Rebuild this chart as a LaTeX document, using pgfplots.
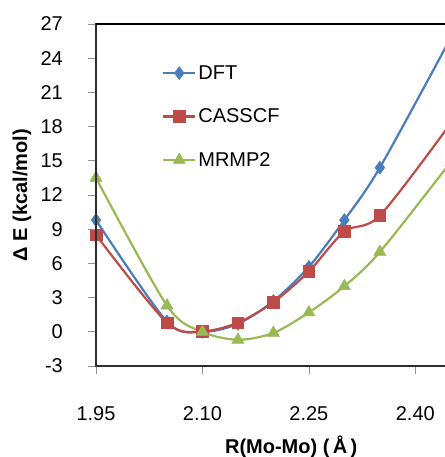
\documentclass[border=0pt]{standalone}
\usepackage{pgfplots}
\pgfplotsset{compat=1.18}
\usepackage{fontspec}
\setmainfont{Liberation Sans}
\definecolor{dftc}{HTML}{4A7EBB}
\definecolor{casc}{HTML}{BE4B48}
\definecolor{mrmc}{HTML}{98B954}
\definecolor{axc}{HTML}{2E2E2E}
\definecolor{tkc}{HTML}{909090}
\begin{document}
\begin{tikzpicture}
\useasboundingbox (-96pt,-91pt) rectangle (348pt,366pt);
\begin{axis}[
  name=a,
  at={(0pt,0pt)}, anchor=south west,
  scale only axis,
  width=390.3pt, height=342pt,
  xmin=1.95, xmax=2.50,
  ymin=-3, ymax=27,
  ytick={-3,0,3,6,9,12,15,18,21,24,27},
  xtick={1.95,2.10,2.25,2.40},
  /pgf/number format/assume math mode=true,
  axis line style={draw=axc, line width=2.3pt},
  tick align=outside,
  major tick length=8pt,
  tick style={draw=tkc, line width=0.6pt},
  xtick pos=bottom, ytick pos=left,
  tick label style={font=\fontsize{20}{24}\selectfont},
  yticklabel style={anchor=east, inner sep=0pt, xshift=-25pt},
  xticklabel style={anchor=center, inner sep=0pt, yshift=-40pt,
    /pgf/number format/fixed, /pgf/number format/fixed zerofill, /pgf/number format/precision=2},
  xlabel={\textbf{R(Mo-Mo) (\,Å\,)}},
  ylabel={\textbf{Δ E (kcal/mol)}},
  label style={font=\fontsize{20}{24}\selectfont},
  xlabel style={at={(rel axis cs:0.5,0)}, anchor=center, yshift=-81pt},
  ylabel style={at={(rel axis cs:0,0.5)}, anchor=center, rotate=0, yshift=74pt},
  legend style={at={(rel axis cs:0.169,0.885)}, anchor=north west, draw=none, fill=none,
    font=\fontsize{20}{24}\selectfont, row sep=24pt, inner sep=0pt,
    /tikz/every even column/.style={column sep=2pt}},
  legend cell align=left,
  legend image code/.code={\draw[#1, mark=none] plot coordinates {(0pt,0pt) (32pt,0pt)};
    \draw[#1, only marks] plot coordinates {(16pt,0pt)};},
]
\addplot[color=dftc, line width=2.2pt, smooth, tension=0.5, mark=diamond*, mark size=6.5pt, mark options={solid, line width=0.5pt}] coordinates {
 (1.95,9.8) (2.05,0.9) (2.10,0) (2.15,0.7) (2.20,2.7) (2.25,5.7) (2.30,9.8) (2.35,14.4) (2.45,25.8)};
\addlegendentry{DFT}
\addplot[color=casc, line width=2.2pt, smooth, tension=0.5, mark=square*, mark size=5.8pt, mark options={solid, line width=0.5pt}] coordinates {
 (1.95,8.5) (2.05,0.8) (2.10,0.05) (2.15,0.8) (2.20,2.6) (2.25,5.3) (2.30,8.8) (2.35,10.2) (2.45,18.3)};
\addlegendentry{CASSCF}
\addplot[color=mrmc, line width=2.2pt, smooth, tension=0.5, mark=triangle*, mark size=7pt, mark options={solid, line width=0.5pt}] coordinates {
 (1.95,13.5) (2.05,2.3) (2.10,0) (2.15,-0.7) (2.20,-0.1) (2.25,1.7) (2.30,4.0) (2.35,7.0) (2.45,14.9)};
\addlegendentry{MRMP2}
\end{axis}
% axis frame and ticks drawn as plain paths
\foreach \yy in {0,34.2,68.4,102.6,136.8,171,205.2,239.4,273.6,307.8,342} {
  \draw[draw=tkc, line width=0.6pt] plot coordinates {(-8pt,\yy pt) (0pt,\yy pt)};
}
\foreach \xx in {0,106.44,212.88,319.32} {
  \draw[draw=tkc, line width=0.6pt] plot coordinates {(\xx pt,0pt) (\xx pt,-8pt)};
}
\draw[draw=axc, line width=2.4pt] plot coordinates {(0pt,342pt) (0pt,0pt) (444pt,0pt)};
\draw[draw=black, line width=1.8pt] plot coordinates {(0pt,342pt) (444pt,342pt)};
\end{tikzpicture}
\end{document}
